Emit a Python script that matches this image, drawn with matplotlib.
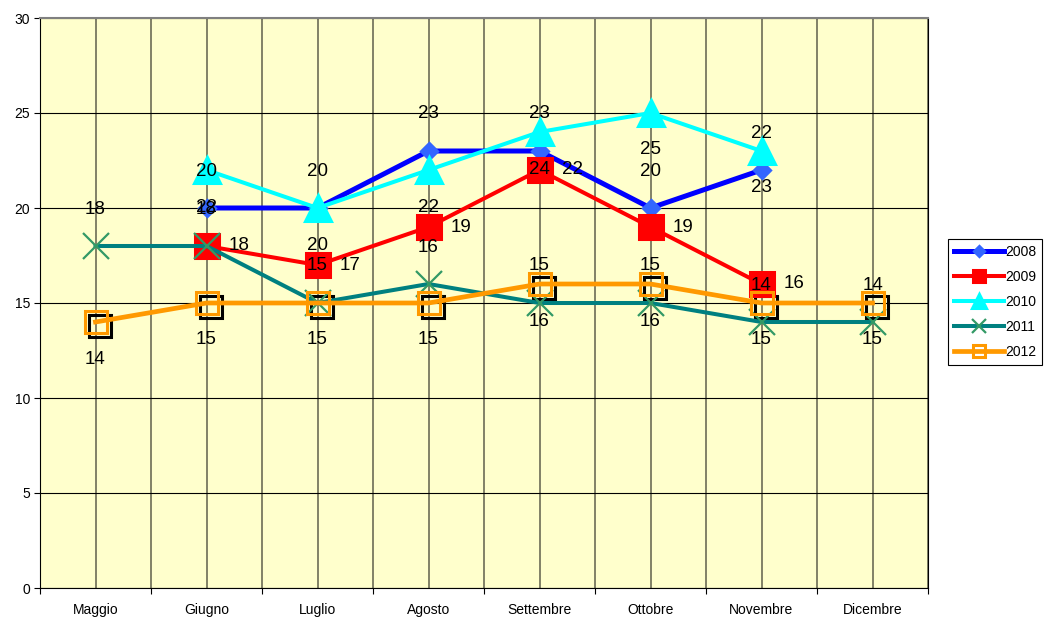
import numpy as np
import matplotlib
matplotlib.use("Agg")
import matplotlib.pyplot as plt
import matplotlib.transforms as mtransforms
from matplotlib import font_manager

months = ['Maggio', 'Giugno', 'Luglio', 'Agosto', 'Settembre', 'Ottobre', 'Novembre', 'Dicembre']
nan = np.nan
y2008 = [nan, 20, 20, 23, 23, 20, 22, nan]
y2009 = [nan, 18, 17, 19, 22, 19, 16, nan]
y2010 = [nan, 22, 20, 22, 24, 25, 23, nan]
y2011 = [18, 18, 15, 16, 15, 15, 14, 14]
y2012 = [14, 15, 15, 15, 16, 16, 15, 15]
y_ticks = [0, 5, 10, 15, 20, 25, 30]

names = [f.name for f in font_manager.fontManager.ttflist]
base_font = 'Liberation Sans' if 'Liberation Sans' in names else 'DejaVu Sans'
narrow_font = 'Liberation Sans Narrow' if 'Liberation Sans Narrow' in names else base_font
plt.rcParams['font.family'] = [base_font, 'DejaVu Sans']

fig = plt.figure(figsize=(10.46, 6.18), dpi=100)
ax = fig.add_axes([40 / 1046, 30 / 618, 888 / 1046, 570 / 618])
ax.set_facecolor('#ffffcc')

x = np.arange(len(months))

# (name, values, line colour, marker, marker face, marker edge, size, line width, label placement)
series = [
    ('2008', y2008, '#0000ff', 'D', '#3366ff', '#3366ff', 8.5, 3.6, 'above'),
    ('2009', y2009, '#ff0000', 's', '#ff0000', '#ff0000', 17, 2.9, 'right'),
    ('2010', y2010, '#00ffff', '^', '#00ffff', '#00ffff', 19, 2.9, 'below'),
    ('2011', y2011, '#008080', 'x', '#339966', '#339966', 19, 2.9, 'above'),
    ('2012', y2012, '#ff9900', 's', 'none', '#ff9900', 16, 3.4, 'below'),
]
offsets = {'above': (0, 37), 'below': (0, -37), 'right': (33, 0)}

# black shadow squares behind the 2012 markers
shadow = mtransforms.offset_copy(ax.transData, fig=fig, x=4, y=-4, units='dots')
ax.plot(x, y2012, linestyle='none', marker='s', markersize=16, markerfacecolor='none',
        markeredgecolor='black', markeredgewidth=2.2, transform=shadow, zorder=3)

for i, (name, vals, lc, mk, mfc, mec, ms, lw, place) in enumerate(series):
    mew = 1.6 if mk == 'x' else 2.2
    ax.plot(x, vals, color=lc, linewidth=lw, marker=mk, markersize=ms,
            markerfacecolor=mfc, markeredgecolor=mec, markeredgewidth=mew,
            label=name, zorder=4 + i)
    dx, dy = offsets[place]
    for xi, v in zip(x, vals):
        if np.isnan(v):
            continue
        ax.annotate(f'{v:.0f}', (xi, v), xytext=(dx, dy), textcoords='offset pixels',
                    ha='center', va='center', fontsize=13.5, zorder=20)

ax.set_xlim(-0.5, len(months) - 0.5)
ax.set_ylim(0, 30)
ax.set_yticks(y_ticks)
ax.tick_params(axis='y', length=4, width=0.8, pad=3, labelsize=10)

ax.set_xticks(np.arange(-0.5, len(months), 1.0))
ax.set_xticklabels([])
ax.set_xticks(x, minor=True)
ax.set_xticklabels(months, minor=True, fontsize=10, family=[narrow_font, 'DejaVu Sans'])
ax.tick_params(axis='x', which='major', length=4, width=0.8)
ax.tick_params(axis='x', which='minor', length=0, pad=11)

ax.grid(axis='y', color='black', linewidth=0.8, zorder=0)
ax.grid(axis='x', which='both', color='#77775f', linewidth=1.3, zorder=0)
ax.set_axisbelow(True)

for side in ['left', 'bottom', 'right']:
    ax.spines[side].set_color('black')
ax.spines['top'].set_color('#808080')
ax.spines['top'].set_linewidth(1.5)

leg = ax.legend(loc='center left', bbox_to_anchor=(948 / 1046, 316 / 618),
                bbox_transform=fig.transFigure, fontsize=10, markerscale=0.55,
                handlelength=3.6, handletextpad=0.05, borderpad=0.45, labelspacing=0.8,
                fancybox=False, framealpha=1, edgecolor='black', borderaxespad=0)
leg.get_frame().set_linewidth(0.8)

fig.savefig('out.png', dpi=100)
